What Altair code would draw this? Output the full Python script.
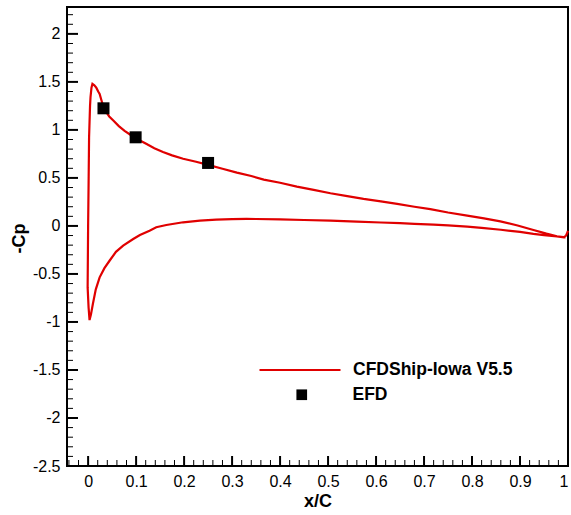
import altair as alt
import pandas as pd

# CFD curve (single ordered path: lower surface TE->LE, leading edge, upper surface LE->TE)
cfd_x = [0.995, 0.977, 0.95, 0.928, 0.90, 0.86, 0.82, 0.79, 0.75, 0.72, 0.68, 0.65, 0.61, 0.56,
         0.505, 0.45, 0.40, 0.35, 0.33, 0.30, 0.267, 0.233, 0.198, 0.163, 0.142, 0.128, 0.108,
         0.094, 0.073, 0.058, 0.045, 0.034, 0.024, 0.016, 0.010, 0.006, 0.003,
         0.001, -0.001, 0.000, 0.001, 0.002, 0.004, 0.005, 0.007, 0.009,
         0.013, 0.017, 0.021, 0.024, 0.030, 0.036, 0.044, 0.052, 0.064, 0.076, 0.088, 0.099,
         0.11, 0.121, 0.138, 0.156, 0.175, 0.198, 0.225, 0.25, 0.28, 0.31, 0.34, 0.366, 0.40,
         0.435, 0.47, 0.505, 0.54, 0.574, 0.61, 0.644, 0.68, 0.713, 0.75, 0.79, 0.825, 0.859,
         0.895, 0.928, 0.955, 0.977, 0.991, 0.996, 0.999, 1.0]
cfd_cp = [-0.12, -0.108, -0.095, -0.082, -0.062, -0.040, -0.020, -0.007, 0.005, 0.013, 0.022,
          0.030, 0.036, 0.045, 0.055, 0.062, 0.068, 0.072, 0.074, 0.071, 0.066, 0.055, 0.038,
          0.010, -0.014, -0.049, -0.094, -0.136, -0.205, -0.27, -0.36, -0.44, -0.535, -0.66,
          -0.81, -0.92, -0.98,
          -0.85, -0.64, 0.0, 0.44, 0.92, 1.25, 1.34, 1.44, 1.48,
          1.465, 1.44, 1.40, 1.375, 1.27, 1.20, 1.14, 1.10, 1.04, 0.99, 0.95, 0.92,
          0.885, 0.855, 0.81, 0.77, 0.735, 0.70, 0.668, 0.636, 0.595, 0.555, 0.52, 0.483, 0.45,
          0.41, 0.375, 0.34, 0.31, 0.281, 0.255, 0.229, 0.20, 0.175, 0.14, 0.107, 0.078, 0.048,
          0.005, -0.042, -0.08, -0.108, -0.119, -0.10, -0.066, -0.05]

# Experimental data
efd_x = [0.032, 0.099, 0.25]
efd_cp = [1.225, 0.923, 0.656]

# Axis tick values
x_major = [0, 0.1, 0.2, 0.3, 0.4, 0.5, 0.6, 0.7, 0.8, 0.9, 1]
y_major = [-2.5, -2, -1.5, -1, -0.5, 0, 0.5, 1, 1.5, 2]
x_minor = [round(-0.04 + 0.02 * i, 2) for i in range(52)]
x_minor = [v for v in x_minor if round(v * 10, 6) != round(v * 10)]
y_minor = [round(-2.5 + 0.1 * i, 1) for i in range(48)]
y_minor = [v for v in y_minor if round(v * 2, 6) != round(v * 2)]

FONT = "Liberation Sans"
W, H = 501, 459

xs = alt.Scale(domain=[-0.044, 1.0], nice=False, zero=False)
ys = alt.Scale(domain=[-2.5, 2.28], nice=False, zero=False)

x_axis = alt.Axis(
    title="x/C", values=x_major, labelExpr="toString(datum.value)",
    ticks=False, domain=False, grid=False, labelPadding=7,
    labelFont=FONT, labelFontSize=16, labelColor="black",
    titleFont=FONT, titleFontSize=18, titleFontWeight="bold", titleColor="black",
    titleBaseline="alphabetic", titleY=40)
y_axis = alt.Axis(
    title="-Cp", values=y_major, labelExpr="toString(datum.value)",
    ticks=False, domain=False, grid=False, labelPadding=7,
    labelFont=FONT, labelFontSize=16, labelColor="black",
    titleFont=FONT, titleFontSize=18, titleFontWeight="bold", titleColor="black",
    titleAngle=270, titleBaseline="alphabetic", titleAlign="center",
    titleX=-43, titleY=231)

cfd = pd.DataFrame({"x": cfd_x, "cp": cfd_cp, "i": list(range(len(cfd_x))),
                    "series": "CFDShip-Iowa V5.5"})
efd = pd.DataFrame({"x": efd_x, "cp": efd_cp, "series": "EFD"})

line = alt.Chart(cfd).mark_line(strokeWidth=2.2).encode(
    x=alt.X("x:Q", scale=xs, axis=x_axis),
    y=alt.Y("cp:Q", scale=ys, axis=y_axis),
    order=alt.Order("i:Q"),
    stroke=alt.Stroke("series:N", scale=alt.Scale(domain=["CFDShip-Iowa V5.5"], range=["#e00000"]),
                      legend=alt.Legend(title=None, orient="none", legendX=191, legendY=321,
                                        symbolType="stroke", symbolSize=6561, symbolStrokeWidth=2.2,
                                        labelOffset=11, padding=0, labelFont=FONT, labelFontSize=17.5,
                                        labelFontWeight="bold", labelColor="black")),
)

pts = alt.Chart(efd).mark_point(filled=True, size=144, opacity=1, color="black").encode(
    x=alt.X("x:Q", scale=xs, axis=x_axis),
    y=alt.Y("cp:Q", scale=ys, axis=y_axis),
    shape=alt.Shape("series:N", scale=alt.Scale(domain=["EFD"], range=["square"]),
                    legend=alt.Legend(title=None, orient="none", legendX=226, legendY=379,
                                      symbolSize=114, symbolFillColor="black",
                                      symbolStrokeColor="black", symbolStrokeWidth=0,
                                      labelOffset=42, padding=0, labelFont=FONT, labelFontSize=17.5,
                                      labelFontWeight="bold", labelColor="black")),
)

xmaj = alt.Chart(pd.DataFrame({"x": x_major})).mark_rule(color="black", strokeWidth=2).encode(
    x=alt.X("x:Q", scale=xs, axis=x_axis), y=alt.value(H), y2=alt.value(H - 10))
xmin = alt.Chart(pd.DataFrame({"x": x_minor})).mark_rule(color="black", strokeWidth=1).encode(
    x=alt.X("x:Q", scale=xs, axis=x_axis), y=alt.value(H), y2=alt.value(H - 6))
ymaj = alt.Chart(pd.DataFrame({"cp": y_major})).mark_rule(color="black", strokeWidth=2).encode(
    y=alt.Y("cp:Q", scale=ys, axis=y_axis), x=alt.value(0), x2=alt.value(11))
ymin = alt.Chart(pd.DataFrame({"cp": y_minor})).mark_rule(color="black", strokeWidth=1).encode(
    y=alt.Y("cp:Q", scale=ys, axis=y_axis), x=alt.value(0), x2=alt.value(6))

chart = alt.layer(line, xmaj, xmin, ymaj, ymin, pts).properties(
    width=W, height=H, autosize="none",
    padding={"left": 67, "top": 7, "right": 3, "bottom": 49},
    background="white",
).configure_view(stroke="black", strokeWidth=2)

chart.save("out.html", embed_options={"renderer": "svg", "actions": False})
